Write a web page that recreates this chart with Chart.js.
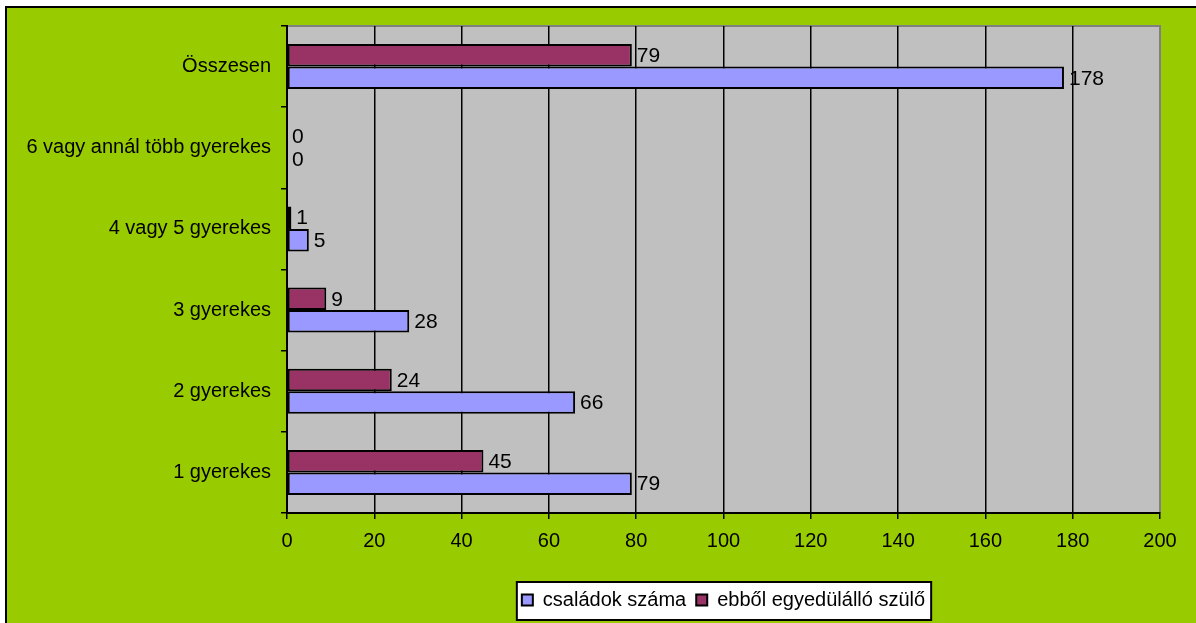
<!DOCTYPE html>
<html>
<head>
<meta charset="utf-8">
<script src="https://cdn.jsdelivr.net/npm/chart.js@4.4.1/dist/chart.umd.min.js"></script>
<style>
  html, body { margin: 0; padding: 0; background: #fff; }
  #wrap { width: 1196px; height: 623px; }
</style>
</head>
<body>
<div id="wrap"><canvas id="chart" width="1196" height="623"></canvas></div>
<script>
/* categories, top to bottom as shown */
const categories = ['Összesen', '6 vagy annál több gyerekes', '4 vagy 5 gyerekes', '3 gyerekes', '2 gyerekes', '1 gyerekes'];
const csaladok   = [178, 0, 5, 28, 66, 79];
const egyedulallo = [79, 0, 1, 9, 24, 45];
const xTicks = [0, 20, 40, 60, 80, 100, 120, 140, 160, 180, 200];

const C_GREEN = '#99CC00';
const C_PLOT  = '#C0C0C0';
const C_BLUE  = '#9999FF';
const C_PLUM  = '#993366';
const FONT    = '"Liberation Sans", Arial, sans-serif';

// background, plot fill and legend frame
const backdrop = {
  id: 'backdrop',
  afterLayout(chart) {
    const lg = chart.legend;
    const shift = -3;
    lg.top += shift;
    lg.bottom += shift;
  },
  beforeDraw(chart) {
    const { ctx, chartArea: a, width, height } = chart;
    ctx.save();
    ctx.fillStyle = '#fff';
    ctx.fillRect(0, 0, width, height);
    ctx.fillStyle = '#000';
    ctx.fillRect(5, 6, width, height);
    ctx.fillStyle = C_GREEN;
    ctx.fillRect(7, 8, width, height);
    ctx.fillStyle = C_PLOT;
    ctx.fillRect(a.left, a.top, a.right - a.left, a.bottom - a.top);
    ctx.strokeStyle = '#808080';
    ctx.lineWidth = 2;
    ctx.beginPath();
    ctx.moveTo(a.left, a.top);
    ctx.lineTo(a.right, a.top);
    ctx.lineTo(a.right, a.bottom);
    ctx.stroke();

    const boxes = chart.legend.legendHitBoxes || [];
    if (boxes.length) {
      const l = Math.min(...boxes.map(b => b.left)) - 5;
      const r = Math.max(...boxes.map(b => b.left + b.width)) + 6;
      const t = Math.min(...boxes.map(b => b.top)) - 8;
      const btm = Math.max(...boxes.map(b => b.top + b.height)) + 10;
      ctx.fillStyle = '#fff';
      ctx.fillRect(l, t, r - l, btm - t);
      ctx.strokeStyle = '#000';
      ctx.lineWidth = 2;
      ctx.strokeRect(l, t, r - l, btm - t);
    }
    ctx.restore();
  }
};

// value labels at the bar ends
const valueLabels = {
  id: 'valueLabels',
  afterDatasetsDraw(chart) {
    const ctx = chart.ctx;
    ctx.save();
    ctx.font = '21px ' + FONT;
    ctx.fillStyle = '#000';
    ctx.textAlign = 'left';
    ctx.textBaseline = 'middle';
    chart.data.datasets.forEach((ds, i) => {
      chart.getDatasetMeta(i).data.forEach((el, j) => {
        ctx.fillText(String(ds.data[j]), el.x + 5, el.y + 1);
      });
    });
    ctx.restore();
  }
};

new Chart(document.getElementById('chart'), {
  type: 'bar',
  data: {
    labels: categories,
    datasets: [
      { label: 'ebből egyedülálló szülő', data: egyedulallo, backgroundColor: C_PLUM, borderColor: '#000',
        borderWidth: c => c.raw === 0 ? 0 : 2, borderSkipped: false, barPercentage: 1, categoryPercentage: 0.555 },
      { label: 'családok száma', data: csaladok, backgroundColor: C_BLUE, borderColor: '#000',
        borderWidth: c => c.raw === 0 ? 0 : 2, borderSkipped: false, barPercentage: 1, categoryPercentage: 0.555 }
    ]
  },
  options: {
    indexAxis: 'y',
    responsive: false,
    animation: false,
    devicePixelRatio: 1,
    layout: { padding: { left: 0, right: 36, top: 26, bottom: 0 } },
    scales: {
      x: {
        min: 0, max: 200,
        afterBuildTicks: s => { s.ticks = xTicks.map(v => ({ value: v })); },
        afterFit: s => { s.height = 70; },
        grid: { color: c => c.tick && c.tick.value === 200 ? '#808080' : '#000', lineWidth: 1.5, tickLength: 6, tickColor: '#000' },
        border: { color: '#000', width: 2 },
        ticks: { color: '#000', font: { family: FONT, size: 20 }, padding: 10, maxRotation: 0 }
      },
      y: {
        afterFit: s => { s.width = 287; },
        grid: { drawOnChartArea: false, offset: true, tickLength: 6, color: '#000', lineWidth: 1.5 },
        border: { color: '#000', width: 2 },
        ticks: { color: '#000', font: { family: FONT, size: 20 }, padding: 10 }
      }
    },
    plugins: {
      legend: {
        position: 'bottom',
        fullSize: false,
        labels: {
          color: '#000',
          font: { family: FONT, size: 20 },
          boxWidth: 11, boxHeight: 11,
          padding: 10,
          sort: (a, b) => b.datasetIndex - a.datasetIndex
        }
      },
      tooltip: { enabled: false }
    }
  },
  plugins: [backdrop, valueLabels]
});
</script>
</body>
</html>
